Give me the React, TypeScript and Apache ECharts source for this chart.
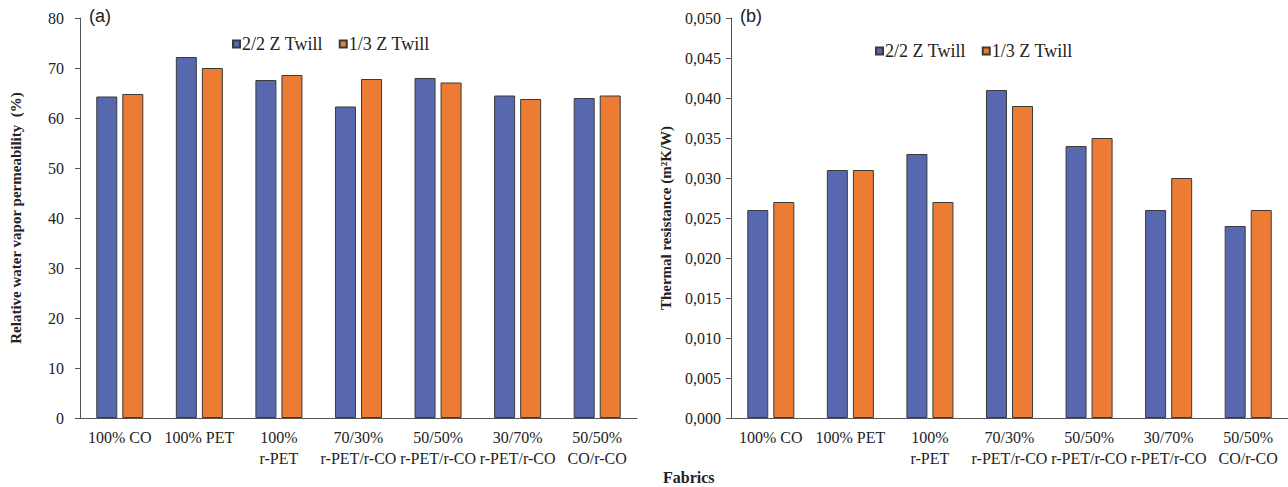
import React, { useEffect, useRef } from "react";
import * as echarts from "echarts";

// Fabric blends shared by both panels
const fabrics = [
  "100% CO",
  "100% PET",
  "100%\nr-PET",
  "70/30%\nr-PET/r-CO",
  "50/50%\nr-PET/r-CO",
  "30/70%\nr-PET/r-CO",
  "50/50%\nCO/r-CO",
];

const seriesNames = ["2/2 Z Twill", "1/3 Z Twill"];

// (a) Relative water vapour permeability, %
const rwvpTwill22 = [64.3, 72.2, 67.6, 62.3, 68.0, 64.5, 64.0];
const rwvpTwill13 = [64.8, 70.0, 68.6, 67.8, 67.1, 63.8, 64.5];

// (b) Thermal resistance, m²K/W
const thermalTwill22 = [0.026, 0.031, 0.033, 0.041, 0.034, 0.026, 0.024];
const thermalTwill13 = [0.027, 0.031, 0.027, 0.039, 0.035, 0.03, 0.026];

const SERIF = "'Liberation Serif', 'Times New Roman', serif";
const SANS = "'Liberation Sans', Arial, sans-serif";
const BLUE = "#5868ae";
const ORANGE = "#ec7c34";
const AXIS = "#555555";
const TEXT = "#222222";

export default function App() {
  const ref = useRef<HTMLDivElement>(null);

  useEffect(() => {
    if (!ref.current) return;
    const chart = echarts.init(ref.current, null, { renderer: "svg" });

    const xAxisBase = {
      type: "category" as const,
      data: fabrics,
      axisLine: { lineStyle: { color: AXIS, width: 1 } },
      axisTick: { inside: true, length: 5, lineStyle: { color: AXIS } },
      axisLabel: {
        interval: 0,
        color: TEXT,
        fontFamily: SERIF,
        fontSize: 16,
        lineHeight: 21,
        margin: 9,
      },
      splitLine: { show: false },
    };

    const yAxisBase = {
      type: "value" as const,
      axisLine: { show: true, lineStyle: { color: AXIS, width: 1 } },
      axisTick: { show: true, length: 5, lineStyle: { color: AXIS } },
      splitLine: { show: false },
      nameLocation: "middle" as const,
      nameRotate: 90,
      nameTextStyle: {
        fontFamily: SERIF,
        fontWeight: "bold" as const,
        fontSize: 15,
        color: TEXT,
      },
    };

    const barBase = (color: string) => ({
      type: "bar" as const,
      barWidth: 21,
      barGap: "24%",
      itemStyle: { color, borderColor: "#3a3a3a", borderWidth: 1 },
    });

    const legendBase = {
      data: seriesNames,
      icon: "rect",
      itemWidth: 7,
      itemHeight: 7,
      itemGap: 16,
      textStyle: { fontFamily: SERIF, fontSize: 18, color: TEXT, padding: [0, 0, 0, -3] },
    };

    chart.setOption({
      animation: false,
      backgroundColor: "#ffffff",
      grid: [
        { left: 80, top: 18, width: 557, height: 400 },
        { left: 731, top: 18, width: 562, height: 400 },
      ],
      legend: [
        { ...legendBase, left: 227, top: 30 },
        { ...legendBase, left: 870, top: 37 },
      ],
      xAxis: [
        { ...xAxisBase, gridIndex: 0 },
        { ...xAxisBase, gridIndex: 1 },
      ],
      yAxis: [
        {
          ...yAxisBase,
          gridIndex: 0,
          min: 0,
          max: 80,
          interval: 10,
          name: "Relative water vapor permeability  (%)",
          nameGap: 57,
          axisLabel: { color: TEXT, fontFamily: SERIF, fontSize: 16, margin: 16 },
        },
        {
          ...yAxisBase,
          gridIndex: 1,
          min: 0,
          max: 0.05,
          interval: 0.005,
          name: "Thermal resistance (m²K/W)",
          nameGap: 58,
          axisLabel: {
            color: TEXT,
            fontFamily: SERIF,
            fontSize: 16,
            margin: 10,
            formatter: (v: number) => v.toFixed(3).replace(".", ","),
          },
        },
      ],
      series: [
        { ...barBase(BLUE), name: seriesNames[0], xAxisIndex: 0, yAxisIndex: 0, data: rwvpTwill22 },
        { ...barBase(ORANGE), name: seriesNames[1], xAxisIndex: 0, yAxisIndex: 0, data: rwvpTwill13 },
        { ...barBase(BLUE), name: seriesNames[0], xAxisIndex: 1, yAxisIndex: 1, data: thermalTwill22 },
        { ...barBase(ORANGE), name: seriesNames[1], xAxisIndex: 1, yAxisIndex: 1, data: thermalTwill13 },
      ],
      graphic: [
        {
          type: "text",
          left: 89,
          top: 7,
          style: { text: "(a)", fontFamily: SANS, fontSize: 18, fill: TEXT },
        },
        {
          type: "text",
          left: 740,
          top: 7,
          style: { text: "(b)", fontFamily: SANS, fontSize: 18, fill: TEXT },
        },
        {
          type: "text",
          left: 663,
          top: 469,
          style: {
            text: "Fabrics",
            fontFamily: SERIF,
            fontWeight: "bold",
            fontSize: 16,
            fill: TEXT,
          },
        },
      ],
    });

    return () => chart.dispose();
  }, []);

  return (
    <div
      ref={ref}
      style={{ position: "fixed", left: 0, top: 0, width: 1288, height: 487, background: "#fff" }}
    />
  );
}
